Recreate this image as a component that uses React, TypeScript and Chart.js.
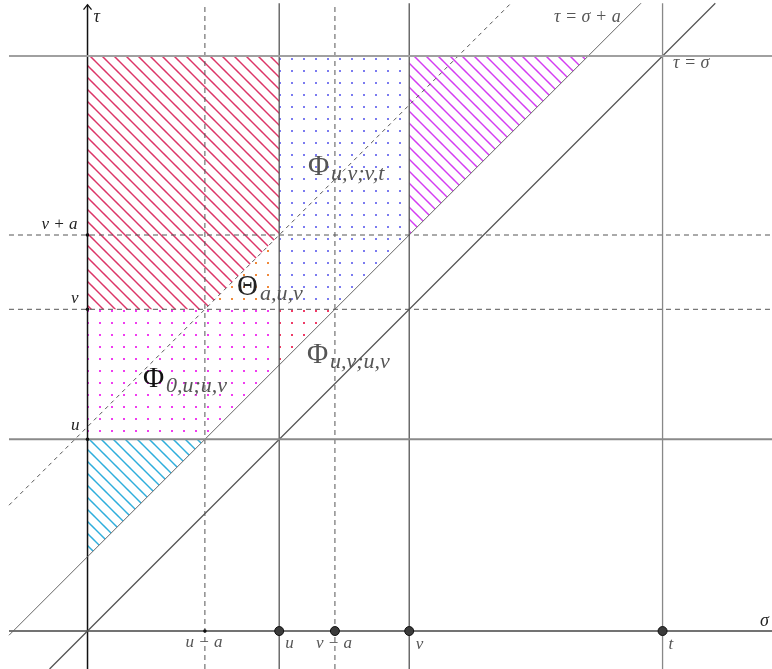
import { useEffect, useRef } from 'react';
import { Chart, registerables } from 'chart.js';

Chart.register(...registerables);

// Parameters of the picture, measured in units of a
const A = 1;
const U = 2.58;
const V = 4.33;
const T = 7.74;

// Visible window of the (σ, τ) plane
const sigmaRange = [-1.178, 9.213];
const tauRange = [-0.511, 8.493];
const lineLeft = -1.057; // left end of the horizontal lines
const lineTop = 8.45; // upper end of vertical and diagonal lines

// Marks on the σ axis
const sigmaMarks = [U - A, U, V - A, V, T];
const sigmaLabels = ['u − a', 'u', 'v − a', 'v', 't'];
const sigmaBig = [false, true, true, true, true];

// Marks on the τ axis
const tauMarks = [U, V, V + A];
const tauLabels = ['u', 'v', 'v + a'];

// Horizontal lines τ = level and vertical lines σ = level
const hLevels = [T, V + A, V, U];
const vLevels = [U - A, U, V - A, V, T];

// Diagonals τ = σ + c
const diagOffsets = [0, A, V + A - U];
const diagNames = ['τ = σ', 'τ = σ + a', ''];
const diagNameAt = [[7.88, 7.577], [6.279, 8.197], [0, 0]];

// Regions (vertices as [σ, τ])
const redHatch = [[0, T], [U, T], [U, V + A], [U - A, V], [0, V]];
const magentaHatch = [[V, V + A], [T - A, T], [V, T]];
const cyanHatch = [[0, A], [U - A, U], [0, U]];
const magentaDots = [[0, U], [U - A, U], [U, U + A], [U, V], [0, V]];
const redDots = [[U, U + A], [V - A, V], [U, V]];
const orangeDots = [[U - A, V], [U, V], [U, V + A]];
const blueDots = [[U, V], [V - A, V], [V, V + A], [V, T], [U, T]];

// Region names: symbol, subscript, anchor [σ, τ]
const regionSymbols = ['Φ', 'Θ', 'Φ', 'Φ'];
const regionSubs = ['u,v;v,t', 'a,u,v', '0,u;u,v', 'u,v;u,v'];
const regionAt = [[2.995, 6.137], [2.039, 4.522], [0.774, 3.284], [2.981, 3.607]];

// ---- styles ----
const hStyle = [
  { color: '#a0a0a0', width: 2, dash: [] as number[] },
  { color: '#555', width: 1, dash: [5, 4] },
  { color: '#555', width: 1, dash: [5, 4] },
  { color: '#8a8a8a', width: 2, dash: [] as number[] },
];
const vStyle = [
  { color: '#555', width: 1, dash: [5, 4] },
  { color: '#555', width: 1.3, dash: [] as number[] },
  { color: '#555', width: 1, dash: [5, 4] },
  { color: '#555', width: 1.3, dash: [] as number[] },
  { color: '#888', width: 1.3, dash: [] as number[] },
];
const dStyle = [
  { color: '#555', width: 1.3, dash: [] as number[] },
  { color: '#666', width: 1, dash: [] as number[] },
  { color: '#555', width: 1, dash: [4, 4] },
];
const sigmaLabelOffset = [[-1, 16, 'center'], [6, 17, 'left'], [-1, 17, 'center'], [6.5, 18, 'left'], [6, 18, 'left']];
const tauLabelOffset = [[-8, -9], [-9, -6], [-10, -6]];
const regionColors = [['#555', '#555'], ['#222', '#555'], ['#111', '#555'], ['#555', '#555']];

const SERIF = '"Liberation Serif", "DejaVu Serif", serif';

function hatchPattern(color: string, offset: number) {
  const c = document.createElement('canvas');
  c.width = 12;
  c.height = 12;
  const g = c.getContext('2d')!;
  g.strokeStyle = color;
  g.lineWidth = 1.5;
  for (const k of [-12, 0, 12]) {
    g.beginPath();
    g.moveTo(offset + k - 1, -1);
    g.lineTo(offset + k + 13, 13);
    g.stroke();
  }
  return g.createPattern(c, 'repeat')!;
}

function dotPattern(color: string) {
  const c = document.createElement('canvas');
  c.width = 12;
  c.height = 12;
  const g = c.getContext('2d')!;
  g.fillStyle = color;
  g.fillRect(3, 10, 2, 2);
  return g.createPattern(c, 'repeat')!;
}

const toPts = (poly: number[][]) => [...poly, poly[0]].map(([x, y]) => ({ x, y }));

const labelPlugin = {
  id: 'diagramLabels',
  afterDatasetsDraw(chart: any) {
    const { ctx, scales } = chart;
    const px = (v: number) => scales.x.getPixelForValue(v);
    const py = (v: number) => scales.y.getPixelForValue(v);
    ctx.save();
    ctx.textBaseline = 'alphabetic';

    // τ axis arrow head
    const ax = px(0);
    const ay = py(8.43);
    ctx.strokeStyle = '#111';
    ctx.lineWidth = 1.3;
    ctx.beginPath();
    ctx.moveTo(ax - 4, ay + 5);
    ctx.lineTo(ax, ay);
    ctx.lineTo(ax + 4, ay + 5);
    ctx.stroke();

    ctx.font = `italic 18px ${SERIF}`;
    ctx.fillStyle = '#222';
    ctx.textAlign = 'left';
    ctx.fillText('τ', ax + 6, ay + 17);
    ctx.fillText('σ', px(sigmaRange[1]) - 12, py(0) - 5);

    // σ tick labels
    ctx.font = `italic 17px ${SERIF}`;
    ctx.fillStyle = '#555';
    sigmaMarks.forEach((m, i) => {
      const [dx, dy, align] = sigmaLabelOffset[i] as [number, number, CanvasTextAlign];
      ctx.textAlign = align;
      ctx.fillText(sigmaLabels[i], px(m) + dx, py(0) + dy);
    });

    // τ tick labels
    ctx.fillStyle = '#222';
    ctx.textAlign = 'right';
    tauMarks.forEach((m, i) => {
      const [dx, dy] = tauLabelOffset[i];
      ctx.fillText(tauLabels[i], px(0) + dx, py(m) + dy);
    });

    // names of the diagonals
    ctx.font = `italic 18px ${SERIF}`;
    ctx.fillStyle = '#555';
    ctx.textAlign = 'left';
    diagNames.forEach((name, i) => {
      if (!name) return;
      ctx.fillText(name, px(diagNameAt[i][0]), py(diagNameAt[i][1]));
    });

    // region names
    regionSymbols.forEach((s, i) => {
      const x0 = px(regionAt[i][0]);
      const y0 = py(regionAt[i][1]);
      ctx.font = `29px ${SERIF}`;
      ctx.fillStyle = regionColors[i][0];
      ctx.fillText(s, x0 - 2, y0);
      ctx.font = `italic 22px ${SERIF}`;
      ctx.fillStyle = regionColors[i][1];
      ctx.fillText(regionSubs[i], x0 + 21, y0 + 5);
    });
    ctx.restore();
  },
};

export default function App() {
  const canvasRef = useRef<HTMLCanvasElement | null>(null);
  const chartRef = useRef<Chart | null>(null);

  useEffect(() => {
    document.body.style.margin = '0';
    const ctx = canvasRef.current?.getContext('2d');
    if (!ctx) return;

    const region = (poly: number[][], pattern: CanvasPattern) => ({
      data: toPts(poly),
      showLine: true,
      fill: 'shape',
      backgroundColor: pattern,
      borderColor: 'rgba(0,0,0,0)',
      borderWidth: 1,
      pointRadius: 0,
      order: 10,
    });
    const seg = (pts: number[][], st: { color: string; width: number; dash: number[] }) => ({
      data: pts.map(([x, y]) => ({ x, y })),
      showLine: true,
      fill: false,
      borderColor: st.color,
      borderWidth: st.width,
      borderDash: st.dash,
      pointRadius: 0,
      order: 5,
    });

    const datasets: any[] = [
      region(redHatch, hatchPattern('#dc3567', 10)),
      region(magentaHatch, hatchPattern('#d43cf2', 10)),
      region(cyanHatch, hatchPattern('#2eaedc', 10)),
      region(magentaDots, dotPattern('#f03cf0')),
      region(redDots, dotPattern('#ee3a66')),
      region(orangeDots, dotPattern('#f08a3a')),
      region(blueDots, dotPattern('#7b7bf0')),
    ];
    hLevels.forEach((h, i) => datasets.push(seg([[lineLeft, h], [sigmaRange[1], h]], hStyle[i])));
    vLevels.forEach((v, i) => datasets.push(seg([[v, tauRange[0]], [v, lineTop]], vStyle[i])));
    diagOffsets.forEach((c, i) => {
      const s0 = Math.max(lineLeft, tauRange[0] - c);
      datasets.push(seg([[s0, s0 + c], [lineTop - c, lineTop]], dStyle[i]));
    });
    // axes
    datasets.push(seg([[lineLeft, 0], [sigmaRange[1], 0]], { color: '#444', width: 1.5, dash: [] }));
    datasets.push(seg([[0, tauRange[0]], [0, 8.43]], { color: '#111', width: 1.5, dash: [] }));
    // marks
    datasets.push({
      data: [
        ...sigmaMarks.filter((_, i) => sigmaBig[i]).map((m) => ({ x: m, y: 0 })),
      ],
      pointRadius: 4.5,
      pointBackgroundColor: '#3a3a3a',
      pointBorderColor: '#111',
      pointBorderWidth: 1,
      order: 0,
    });
    datasets.push({
      data: [
        ...sigmaMarks.filter((_, i) => !sigmaBig[i]).map((m) => ({ x: m, y: 0 })),
        ...tauMarks.map((m) => ({ x: 0, y: m })),
      ],
      pointRadius: 1.8,
      pointBackgroundColor: '#111',
      pointBorderWidth: 0,
      order: 0,
    });

    chartRef.current = new Chart(ctx, {
      type: 'scatter',
      data: { datasets },
      options: {
        animation: false,
        responsive: true,
        maintainAspectRatio: false,
        devicePixelRatio: 1,
        events: [],
        layout: { padding: 0, autoPadding: false },
        scales: {
          x: { type: 'linear', display: false, min: sigmaRange[0], max: sigmaRange[1] },
          y: { type: 'linear', display: false, min: tauRange[0], max: tauRange[1] },
        },
        plugins: {
          legend: { display: false },
          tooltip: { enabled: false },
        },
      },
      plugins: [labelPlugin],
    });

    return () => {
      chartRef.current?.destroy();
      chartRef.current = null;
    };
  }, []);

  return (
    <div style={{ position: 'relative', width: 772, height: 669 }}>
      <canvas ref={canvasRef}></canvas>
    </div>
  );
}
